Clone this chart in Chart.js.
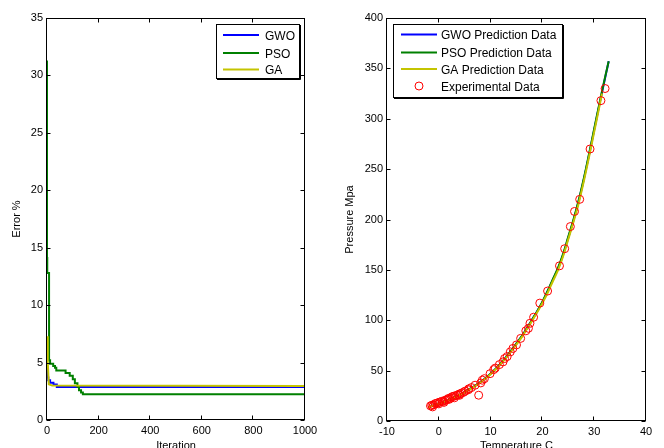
<!DOCTYPE html>
<html>
<head>
<meta charset="utf-8">
<script src="https://cdn.jsdelivr.net/npm/chart.js@4.4.1/dist/chart.umd.min.js"></script>
<style>
  html, body { margin: 0; padding: 0; background: #fff; overflow: hidden; width: 664px; height: 448px; }
  .pane { position: absolute; top: 0; width: 332px; height: 460px; }
  canvas { display: block; }
</style>
</head>
<body>
<div class="pane" style="left:0"><canvas id="conv" width="332" height="460"></canvas></div>
<div class="pane" style="left:332px"><canvas id="fit" width="332" height="460"></canvas></div>
<script>
// ---- convergence of the three optimisers ----
const gwoIter = [0, 2, 5, 12, 25, 38, 45, 1000];
const gwoErr  = [4.6, 4.0, 3.7, 3.45, 3.25, 3.1, 2.88, 2.88];

const psoIter = [0, 1, 8, 12, 24, 31, 36, 72, 88, 100, 108, 118, 124, 132, 139, 145, 1000];
const psoErr  = [31.3, 14.1, 12.8, 5.2, 4.9, 4.7, 4.55, 4.3, 4.1, 3.85, 3.55, 3.2, 2.9, 2.6, 2.4, 2.25, 2.25];

const gaIter = [0, 3, 7, 20, 1000];
const gaErr  = [7.3, 5.0, 3.1, 3.0, 2.95];

const convXTicks = [0, 200, 400, 600, 800, 1000];
const convYTicks = [0, 5, 10, 15, 20, 25, 30, 35];

// ---- pressure vs temperature ----
const tempCurve = [-2, -1, 0, 1, 2, 3, 4, 5, 6, 7, 8, 9, 10, 11, 12, 13, 14, 15, 16, 17,
                   18, 19, 20, 21, 22, 23, 24, 25, 26, 27, 28, 29, 30, 31, 32, 32.8];
const presGWO = [13.5, 15.5, 17.4, 19.2, 21.2, 23.5, 26, 28.8, 31.8, 35, 38.5, 42.5, 47, 52, 57.5, 63.5, 70, 77, 84, 92,
                 100.5, 109, 118, 128.5, 140, 151, 165, 182, 199, 218, 240, 264, 289, 314, 338, 357];
const presPSO = [13.5, 15.5, 17.4, 19.2, 21.2, 23.5, 26, 28.8, 31.8, 35, 38.5, 42.5, 47, 52, 57.5, 63.5, 70, 77, 84, 92,
                 100.5, 109, 118.5, 129, 140.5, 152, 166, 183, 200, 219, 241, 265, 290, 315, 339, 357];
const tempGA = [-2, -1, 0, 1, 2, 3, 4, 5, 6, 7, 8, 9, 10, 11, 12, 13, 14, 15, 16, 17,
                18, 19, 20, 21, 22, 23, 24, 25, 26, 27, 28, 29, 30, 31, 31.5];
const presGA = [13.4, 15.4, 17.2, 19, 21, 23.2, 25.7, 28.4, 31.4, 34.6, 38, 42, 46.4, 51.3, 56.8, 62.7, 69.2, 76.1, 83, 91,
                99.4, 108, 117, 127, 138.5, 149.5, 163.5, 180.5, 197.5, 216, 238, 262, 287, 312, 325];

const tempExp = [32.1, 31.3, 29.2, 27.2, 26.2, 25.4, 24.3, 23.3, 21.0, 19.5, 18.3, 17.6, 17.3, 16.8, 15.8, 15.0,
                 14.3, 13.8, 13.2, 12.7, 12.4, 11.7, 10.9, 10.6, 9.9, 8.8, 8.4, 8.1, 7.7, 7.0, 6.3, 5.8, 5.7,
                 5.1, 4.4, 3.8, 3.1, 2.5, 1.8, 1.2, 0.6, -0.1, -0.7, -1.35, -1.6, -1.0, -0.4, 0.2, 0.9, 1.5,
                 2.1, 2.8, 3.5, 4.1, 4.8, -1.2, 0.0, 1.0, 2.0, 3.0, 4.0];
const presExp = [330, 318, 270, 220, 208, 193, 171, 154, 129, 117, 103, 97, 92, 89.5, 82, 75.5,
                 72, 68.6, 64, 62, 58.7, 56, 52.5, 51, 47, 42, 40.5, 37.8, 25.6, 35.5, 33.2, 32, 31,
                 29.7, 27.8, 26.2, 24.9, 23.9, 22.3, 20.6, 19.6, 18.3, 17.3, 15.6, 15, 16, 17.5, 18.8, 19.5, 21,
                 22.5, 24.5, 25.5, 27, 28.5, 14, 17, 18.5, 21.5, 23, 25.5];

const fitXTicks = [-10, 0, 10, 20, 30, 40];
const fitYTicks = [0, 50, 100, 150, 200, 250, 300, 350, 400];

const FONT = "'Liberation Sans', Arial, Helvetica, sans-serif";

function pairs(xs, ys) { return xs.map((x, i) => ({ x: x, y: ys[i] })); }

// closed axes box with inward tick marks on all four sides
const boxTicks = {
  id: 'boxTicks',
  afterDatasetsDraw(chart) {
    const { ctx, chartArea: a, scales } = chart;
    const L = Math.round(a.left) - 0.5, R = Math.round(a.right) - 0.5;
    const T = Math.round(a.top) + 0.5, B = Math.round(a.bottom) - 0.5;
    const len = 4;
    ctx.save();
    ctx.strokeStyle = '#000';
    ctx.lineWidth = 1;
    ctx.strokeRect(L, T, R - L, B - T);
    ctx.beginPath();
    scales.x.ticks.forEach(t => {
      const p = Math.round(scales.x.getPixelForValue(t.value)) - 0.5;
      ctx.moveTo(p, B); ctx.lineTo(p, B - len);
      ctx.moveTo(p, T); ctx.lineTo(p, T + len);
    });
    scales.y.ticks.forEach(t => {
      const p = Math.round(scales.y.getPixelForValue(t.value)) + 0.5;
      ctx.moveTo(L, p); ctx.lineTo(L + len, p);
      ctx.moveTo(R, p); ctx.lineTo(R - len, p);
    });
    ctx.stroke();
    ctx.restore();
  }
};

// boxed legend drawn inside the axes
const boxLegend = {
  id: 'boxLegend',
  afterDraw(chart, args, opts) {
    const { ctx } = chart;
    const b = opts.box;
    ctx.save();
    ctx.fillStyle = '#fff';
    ctx.fillRect(b.x, b.y, b.w, b.h);
    ctx.strokeStyle = '#000';
    ctx.lineWidth = 1;
    ctx.strokeRect(b.x + 0.5, b.y + 0.5, b.w, b.h);
    ctx.beginPath();
    ctx.moveTo(b.x + b.w + 1.5, b.y + 1); ctx.lineTo(b.x + b.w + 1.5, b.y + b.h + 1.5);
    ctx.lineTo(b.x + 1, b.y + b.h + 1.5);
    ctx.stroke();
    ctx.font = '12px ' + FONT;
    ctx.textBaseline = 'middle';
    ctx.textAlign = 'left';
    chart.data.datasets.forEach((ds, i) => {
      const y = opts.rows[i];
      if (ds.showLine === false) {
        ctx.strokeStyle = ds.borderColor;
        ctx.lineWidth = 1;
        ctx.beginPath();
        ctx.arc((opts.lineX0 + opts.lineX1) / 2, y, 4, 0, Math.PI * 2);
        ctx.stroke();
      } else {
        ctx.strokeStyle = ds.borderColor;
        ctx.lineWidth = 2;
        ctx.beginPath();
        ctx.moveTo(opts.lineX0, y); ctx.lineTo(opts.lineX1, y);
        ctx.stroke();
      }
      ctx.fillStyle = '#000';
      ctx.fillText(ds.label, opts.textX, y + 1.5);
    });
    ctx.restore();
  }
};

function axisOpts(min, max, ticks, title, isY, fitSize, titlePad) {
  return {
    type: 'linear',
    min: min, max: max,
    afterBuildTicks: s => { s.ticks = ticks.map(v => ({ value: v })); },
    afterFit: s => { if (isY) s.width = fitSize; else s.height = fitSize; },
    grid: { display: false, drawTicks: false },
    border: { display: false },
    ticks: { color: '#000', font: { family: FONT, size: 11 }, padding: 4, maxRotation: 0, autoSkip: false,
             callback: v => String(v) },
    title: { display: true, text: title, color: '#000', font: { family: FONT, size: 11 }, padding: titlePad }
  };
}

const common = {
  responsive: false,
  animation: false,
  devicePixelRatio: 1,
  plugins: { legend: { display: false }, tooltip: { enabled: false } },
  elements: { point: { radius: 0 } }
};

new Chart(document.getElementById('conv'), {
  type: 'scatter',
  data: {
    datasets: [
      { label: 'GWO', data: pairs(gwoIter, gwoErr), showLine: true, stepped: 'after',
        borderColor: '#0000ff', borderWidth: 2, pointRadius: 0, order: 2 },
      { label: 'PSO', data: pairs(psoIter, psoErr), showLine: true, stepped: 'after',
        borderColor: '#008000', borderWidth: 2, pointRadius: 0, order: 1 },
      { label: 'GA', data: pairs(gaIter, gaErr), showLine: true,
        borderColor: '#c4c400', borderWidth: 2, pointRadius: 0, order: 0 }
    ]
  },
  options: Object.assign({}, common, {
    layout: { padding: { left: 0, top: 18, right: 27, bottom: 0 } },
    scales: {
      x: axisOpts(0, 1000, convXTicks, 'Iteration', false, 40, { top: 0, bottom: 7 }),
      y: axisOpts(0, 35, convYTicks, 'Error %', true, 47, { top: 10, bottom: 0 })
    },
    plugins: Object.assign({}, common.plugins, {
      boxLegend: { box: { x: 216, y: 24, w: 83, h: 54 }, rows: [35, 53, 69.5], lineX0: 223, lineX1: 259, textX: 265 }
    })
  }),
  plugins: [boxTicks, boxLegend]
});

new Chart(document.getElementById('fit'), {
  type: 'scatter',
  data: {
    datasets: [
      { label: 'GWO Prediction Data', data: pairs(tempCurve, presGWO), showLine: true, tension: 0.4,
        borderColor: '#0000ff', borderWidth: 2, pointRadius: 0, order: 3 },
      { label: 'PSO Prediction Data', data: pairs(tempCurve, presPSO), showLine: true, tension: 0.4,
        borderColor: '#008000', borderWidth: 2, pointRadius: 0, order: 2 },
      { label: 'GA Prediction Data', data: pairs(tempGA, presGA), showLine: true, tension: 0.4,
        borderColor: '#c4c400', borderWidth: 2, pointRadius: 0, order: 1 },
      { label: 'Experimental Data', data: pairs(tempExp, presExp), showLine: false,
        borderColor: '#ff0000', backgroundColor: 'rgba(0,0,0,0)', borderWidth: 1,
        pointRadius: 4, pointStyle: 'circle', order: 0 }
    ]
  },
  options: Object.assign({}, common, {
    layout: { padding: { left: 0, top: 18, right: 18, bottom: 0 } },
    scales: {
      x: axisOpts(-10, 40, fitXTicks, 'Temperature C', false, 39, { top: 0, bottom: 7 }),
      y: axisOpts(0, 400, fitYTicks, 'Pressure Mpa', true, 55, { top: 11, bottom: 0 })
    },
    plugins: Object.assign({}, common.plugins, {
      boxLegend: { box: { x: 61, y: 24, w: 169, h: 73 }, rows: [34.5, 52.5, 69, 86], lineX0: 69, lineX1: 105, textX: 109 }
    })
  }),
  plugins: [boxTicks, boxLegend]
});
</script>
</body>
</html>
